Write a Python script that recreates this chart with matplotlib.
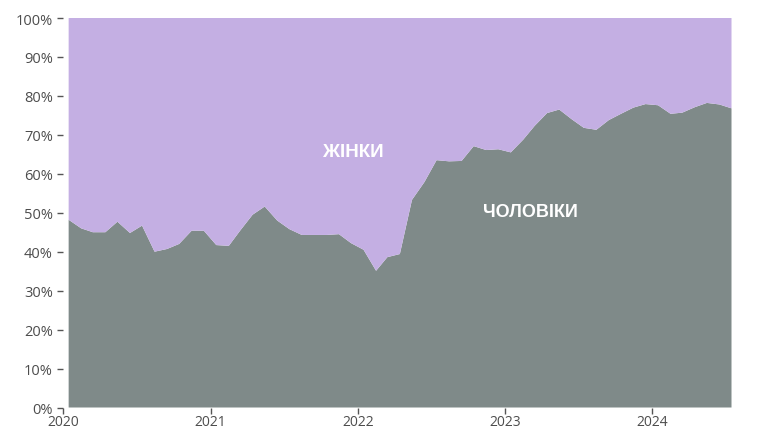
import matplotlib
matplotlib.use("Agg")
import matplotlib.pyplot as plt
import pandas as pd

# Monthly share of men (%) from Jan 2020 to Jul 2024; women = 100 - men
months = pd.date_range("2020-01-01", "2024-07-01", freq="MS") + pd.Timedelta(days=14)
men = [48.2, 46.0, 45.0, 45.0, 47.7, 44.8, 46.7, 40.0, 40.7, 42.0, 45.4, 45.4,
       41.7, 41.5, 45.4, 49.5, 51.6, 48.0, 45.8, 44.3, 44.3, 44.3, 44.5, 42.2,
       40.5, 35.1, 38.6, 39.4, 53.3, 57.9, 63.5, 63.2, 63.3, 67.1, 66.1, 66.3,
       65.5, 68.8, 72.3, 75.6, 76.5, 74.0, 71.8, 71.3, 73.8, 75.4, 77.0, 77.9,
       77.6, 75.4, 75.7, 77.1, 78.2, 77.8, 76.8]
women = [100 - m for m in men]
year_ticks = ["2020", "2021", "2022", "2023", "2024"]
y_ticks = list(range(0, 101, 10))
label_men = "ЧОЛОВІКИ"
label_women = "ЖІНКИ"

c_men = "#7f8a89"
c_women = "#c4afe3"

fig = plt.figure(figsize=(7.7, 4.31), dpi=100)
ax = fig.add_axes([63 / 770, (431 - 408.5) / 431, (731.5 - 63) / 770, (408.5 - 19) / 431])

ax.stackplot(months, men, women, colors=[c_men, c_women], linewidth=0)

ax.set_xlim(pd.Timestamp("2020-01-01"), months[-1])
ax.set_ylim(0, 100)

ax.set_xticks([pd.Timestamp(f"{y}-01-01") for y in year_ticks])
ax.set_xticklabels(year_ticks)
ax.set_yticks(y_ticks)
ax.set_yticklabels([f"{v}%" for v in y_ticks])

for s in ax.spines.values():
    s.set_visible(False)

ax.tick_params(axis="both", colors="#555555", labelcolor="#4d4d4d",
               length=4.3, width=1, labelsize=10.5)
ax.tick_params(axis="y", pad=3)
ax.tick_params(axis="x", pad=0.5, labelsize=10)
for lab in ax.get_xticklabels() + ax.get_yticklabels():
    lab.set_fontfamily("Open Sans")

ax.text(pd.Timestamp("2021-12-20"), 65.8, label_women, color="white",
        fontsize=13.5, fontweight="bold", family="Liberation Sans",
        ha="center", va="center")
ax.text(pd.Timestamp("2023-03-05"), 50.3, label_men, color="white",
        fontsize=13, fontweight="bold", family="Liberation Sans",
        ha="center", va="center")

fig.savefig("out.png", dpi=100)
